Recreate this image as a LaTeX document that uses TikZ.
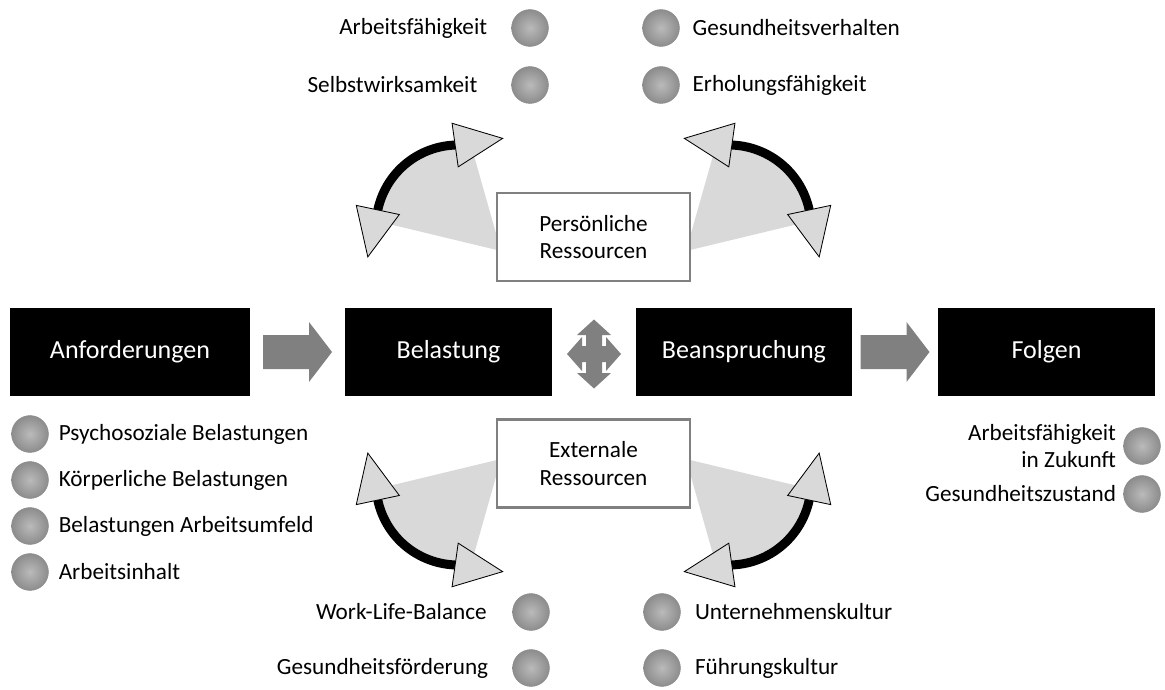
\documentclass[tikz,border=0pt]{standalone}
\usepackage{fontspec}
\setmainfont{Carlito}
\usetikzlibrary{positioning,calc}
\definecolor{wedgegray}{HTML}{D9D9D9}
\definecolor{blockgray}{HTML}{808080}
\begin{document}
\begin{tikzpicture}[
    x=0.025cm, y=-0.025cm,
    phase/.style={rectangle, fill=black, text=white, minimum height=2.2cm, inner sep=0pt, font=\fontsize{18.5}{22}\selectfont},
    res/.style={rectangle, draw=blockgray, line width=1.6pt, fill=white, minimum width=4.825cm, minimum height=2.2cm, align=center, font=\fontsize{16.5}{19.5}\selectfont},
    knob/.style={circle, minimum size=0.92cm, inner sep=0pt, draw=black!45, inner color=black!27, outer color=black!45},
    lbl/.style={inner sep=0pt, font=\fontsize{16.5}{19.5}\selectfont},
    wedge/.style={fill=wedgegray},
    swing/.style={line width=6.4pt},
    tipbox/.style={fill=wedgegray, draw=black, line width=0.6pt, line join=miter}
]
\useasboundingbox (0,0) rectangle (1165,690);

\foreach \sx/\sy in {1/-1, -1/-1, 1/1, -1/1} {
    \begin{scope}[shift={(593.5,355)}, xscale=\sx, yscale=\sy]
        \fill[wedge] (-92.5,104) -- plot[domain=176:80, samples=30] ({-135.5+80*cos(\x)}, {128+80*sin(\x)}) -- cycle;
        \draw[swing] plot[domain=168:92, samples=30] ({-135.5+82*cos(\x)}, {128+82*sin(\x)});
        \draw[tipbox] ({-135.5+82*cos(168)}, {128+82*sin(168)}) +(348:22) -- +(258:48) -- +(168:22) -- cycle;
        \draw[tipbox] ({-135.5+82*cos(92)}, {128+82*sin(92)}) +(98:22) -- +(8:48) -- +(-82:22) -- cycle;
    \end{scope}
}

\node[phase, minimum width=6cm] (anf) at (130,352) {Anforderungen};
\node[phase, minimum width=5.175cm] (bel) at (448.5,352) {Belastung};
\node[phase, minimum width=5.4cm] (bea) at (744,352) {Beanspruchung};
\node[phase, minimum width=5.425cm] (fol) at (1046.5,352) {Folgen};

\foreach \a/\b in {anf/bel, bea/fol} {
    \coordinate (mid) at ($(\a.east)!0.5!(\b.west)$);
    \fill[blockgray] ($(mid)+(-34.5,-17)$) -- ($(mid)+(11.5,-17)$) -- ($(mid)+(11.5,-30)$) -- ($(mid)+(34.5,0)$)
        -- ($(mid)+(11.5,30)$) -- ($(mid)+(11.5,17)$) -- ($(mid)+(-34.5,17)$) -- cycle;
}

\coordinate (quad) at ($(bel.east)!0.5!(bea.west)+(0,2)$);
\fill[blockgray, shift={(quad)}] (0,-34.5) -- (17,-19) -- (8,-19) -- (8,-8) -- (12,-8) -- (12,-17) -- (27,0)
    -- (12,17) -- (12,8) -- (8,8) -- (8,19) -- (17,19) -- (0,34.5) -- (-17,19) -- (-8,19) -- (-8,8)
    -- (-12,8) -- (-12,17) -- (-27,0) -- (-12,-17) -- (-12,-8) -- (-8,-8) -- (-8,-19) -- (-17,-19) -- cycle;

\node[res] (pers) at (593.5,237) {Persönliche\\Ressourcen};
\node[res] (ext) at (593.5,463.5) {Externale\\Ressourcen};

\node[knob] (t1) at (530,28) {};
\node[lbl, left=17pt of t1] (lt1) {Arbeitsfähigkeit};
\node[knob] (t2) at (530,85) {};
\node[lbl, left=24pt of t2] (lt2) {Selbstwirksamkeit};
\node[knob] (t3) at (661,28) {};
\node[lbl, right=9pt of t3] (lt3) {Gesundheitsverhalten};
\node[knob] (t4) at (661,85) {};
\node[lbl, right=9pt of t4] (lt4) {Erholungsfähigkeit};

\node[knob] (b1) at (531,612) {};
\node[lbl, left=18pt of b1] (lb1) {Work-Life-Balance};
\node[knob] (b2) at (531,668) {};
\node[lbl, left=17pt of b2] (lb2) {Gesundheitsförderung};
\node[knob] (b3) at (662,612) {};
\node[lbl, right=10pt of b3] (lb3) {Unternehmenskultur};
\node[knob] (b4) at (662,668) {};
\node[lbl, right=10pt of b4] (lb4) {Führungskultur};

\node[knob] (a1) at (30,434) {};
\node[lbl, right=7pt of a1] (la1) {Psychosoziale Belastungen};
\node[knob] (a2) at (30,480) {};
\node[lbl, right=7pt of a2] (la2) {Körperliche Belastungen};
\node[knob] (a3) at (30,526) {};
\node[lbl, right=7pt of a3] (la3) {Belastungen Arbeitsumfeld};
\node[knob] (a4) at (30,572) {};
\node[lbl, right=7pt of a4] (la4) {Arbeitsinhalt};

\node[knob] (f1) at (1142,446) {};
\node[lbl, left=5pt of f1, align=right] (lf1) {Arbeitsfähigkeit\\in Zukunft};
\node[knob] (f2) at (1142,494) {};
\node[lbl, left=5pt of f2] (lf2) {Gesundheitszustand};
\end{tikzpicture}
\end{document}
